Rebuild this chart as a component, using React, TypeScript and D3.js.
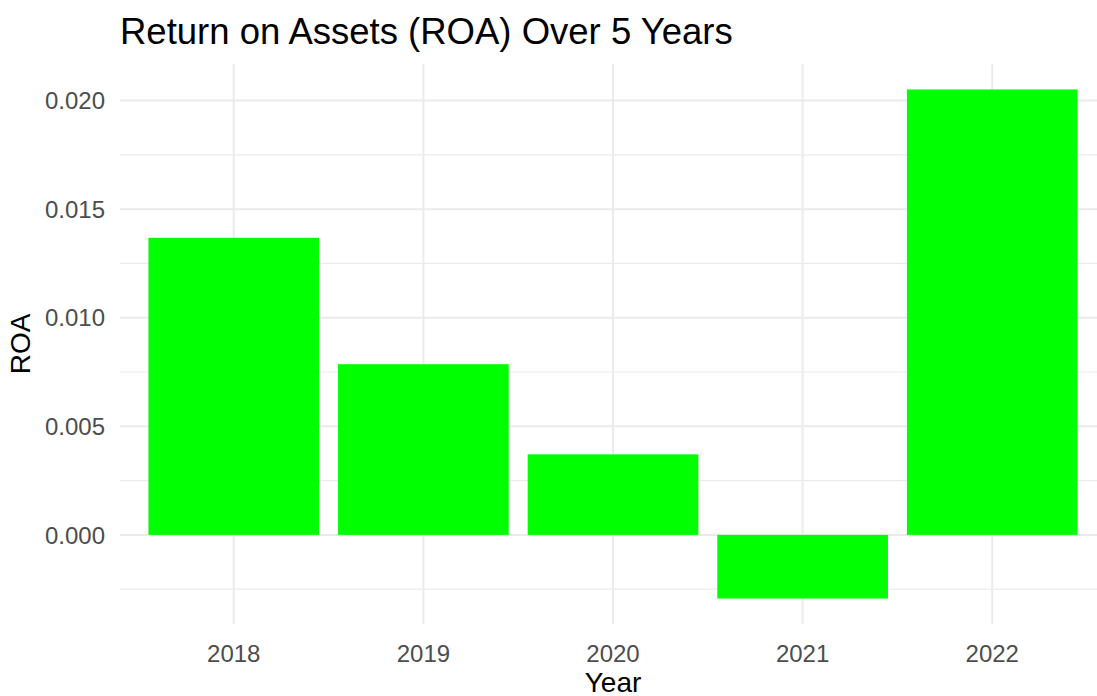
import React from "react";
import * as d3 from "d3";

const years = ["2018", "2019", "2020", "2021", "2022"];
const roaValues = [0.01368, 0.00786, 0.00371, -0.00293, 0.02051];
const yMajorTicks = [0, 0.005, 0.01, 0.015, 0.02];
const yMinorTicks = [-0.0025, 0.0025, 0.0075, 0.0125, 0.0175];
const titleText = "Return on Assets (ROA) Over 5 Years";
const xTitle = "Year";
const yTitle = "ROA";

const W = 1097;
const H = 696;
const panel = { left: 120, top: 64, right: 1106, bottom: 624 };
const FONT = "Liberation Sans, Arial, sans-serif";

export default function App() {
  const minV = d3.min(roaValues) as number;
  const maxV = d3.max(roaValues) as number;
  const pad = (maxV - minV) * 0.05;
  const y = d3
    .scaleLinear()
    .domain([minV - pad, maxV + pad])
    .range([panel.bottom, panel.top]);
  const x = d3
    .scaleBand<string>()
    .domain(years)
    .range([panel.left, panel.right])
    .paddingInner(0.1)
    .paddingOuter(0.15);
  const step = x.step();
  const fmt = d3.format(".3f");

  return (
    <svg
      width={W}
      height={H}
      style={{ position: "absolute", left: 0, top: 0, background: "#fff" }}
      fontFamily={FONT}
    >
      <rect x={0} y={0} width={W} height={H} fill="#fff" />
      {yMinorTicks.map((t) => (
        <line
          key={"mi" + t}
          x1={panel.left}
          x2={panel.right}
          y1={y(t)}
          y2={y(t)}
          stroke="#EBEBEB"
          strokeWidth={1.2}
        />
      ))}
      {yMajorTicks.map((t) => (
        <line
          key={"ma" + t}
          x1={panel.left}
          x2={panel.right}
          y1={y(t)}
          y2={y(t)}
          stroke="#EBEBEB"
          strokeWidth={2}
        />
      ))}
      {years.map((yr) => {
        const cx = (x(yr) as number) + x.bandwidth() / 2;
        return (
          <line
            key={"v" + yr}
            x1={cx}
            x2={cx}
            y1={panel.top}
            y2={panel.bottom}
            stroke="#EBEBEB"
            strokeWidth={2}
          />
        );
      })}
      {years.map((yr, i) => {
        const v = roaValues[i];
        const y0 = y(0);
        const y1 = y(v);
        return (
          <rect
            key={"b" + yr}
            x={x(yr) as number}
            y={Math.min(y0, y1)}
            width={x.bandwidth()}
            height={Math.abs(y1 - y0)}
            fill="#00FF00"
          />
        );
      })}
      {yMajorTicks.map((t) => (
        <text
          key={"yl" + t}
          x={105}
          y={y(t)}
          dy="0.36em"
          textAnchor="end"
          fontSize={24}
          fill="#4D4D4D"
        >
          {fmt(t)}
        </text>
      ))}
      {years.map((yr) => {
        const cx = (x(yr) as number) + x.bandwidth() / 2;
        return (
          <text
            key={"xl" + yr}
            x={cx}
            y={662}
            textAnchor="middle"
            fontSize={24}
            fill="#4D4D4D"
          >
            {yr}
          </text>
        );
      })}
      <text
        x={(panel.left + panel.left + step * 5.2) / 2}
        y={692}
        textAnchor="middle"
        fontSize={28}
        fill="#000"
      >
        {xTitle}
      </text>
      <text
        transform={`translate(30, ${(panel.top + panel.bottom) / 2}) rotate(-90)`}
        textAnchor="middle"
        fontSize={28}
        fill="#000"
      >
        {yTitle}
      </text>
      <text x={120} y={44} fontSize={36.5} fill="#000">
        {titleText}
      </text>
    </svg>
  );
}
